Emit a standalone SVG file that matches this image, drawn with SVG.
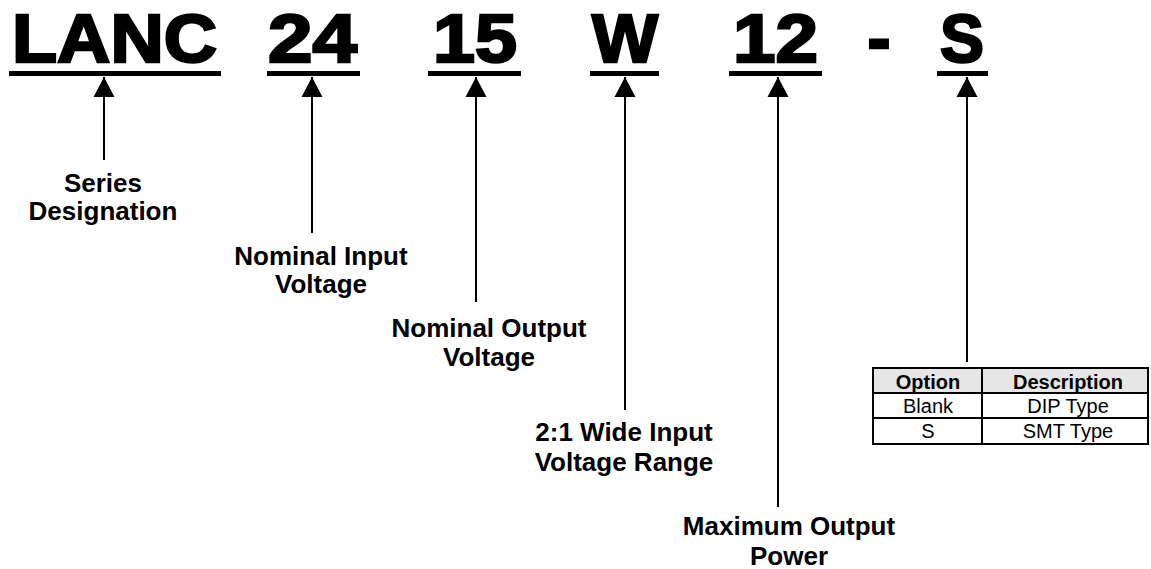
<svg xmlns="http://www.w3.org/2000/svg" width="1151" height="569" viewBox="0 0 1151 569">
<style>
.big{font-family:"Liberation Sans",Arial,sans-serif;font-weight:bold;font-size:69px;fill:#000;stroke:#000;stroke-width:2.5}
.lbl{font-family:"Liberation Sans",Arial,sans-serif;font-weight:bold;font-size:26px;fill:#000;text-anchor:middle}
.th{font-family:"Liberation Sans",Arial,sans-serif;font-weight:bold;font-size:20px;fill:#000;text-anchor:middle}
.td{font-family:"Liberation Sans",Arial,sans-serif;font-size:20px;fill:#000;text-anchor:middle}
.conn line{stroke:#000;stroke-width:2}
.ul{fill:#000}
</style>
<defs>
<marker id="ah" markerWidth="22" markerHeight="20" refX="11" refY="0" orient="0" markerUnits="userSpaceOnUse" viewBox="0 0 22 20">
<path d="M11,0 L21.5,20 L0.5,20 Z" fill="#000"/>
</marker>
</defs>
<rect width="1151" height="569" fill="#fff"/>
<g id="code">
<g id="tok-lanc"><text class="big" x="12" y="62" textLength="205" lengthAdjust="spacingAndGlyphs">LANC</text><rect class="ul" x="9" y="71" width="212" height="5"/></g>
<g id="tok-24"><text class="big" x="268" y="62" textLength="89" lengthAdjust="spacingAndGlyphs">24</text><rect class="ul" x="267" y="71" width="93" height="5"/></g>
<g id="tok-15"><text class="big" x="433" y="62" textLength="84" lengthAdjust="spacingAndGlyphs">15</text><rect class="ul" x="428" y="71" width="93" height="5"/></g>
<g id="tok-w"><text class="big" x="592" y="62" textLength="66" lengthAdjust="spacingAndGlyphs">W</text><rect class="ul" x="590" y="71" width="69" height="5"/></g>
<g id="tok-12"><text class="big" x="733" y="62" textLength="85" lengthAdjust="spacingAndGlyphs">12</text><rect class="ul" x="729" y="71" width="93" height="5"/></g>
<g id="tok-dash"><text class="big" x="879" y="62" text-anchor="middle">-</text></g>
<g id="tok-s"><text class="big" x="940" y="62" textLength="44" lengthAdjust="spacingAndGlyphs">S</text><rect class="ul" x="937" y="71" width="51" height="5"/></g>
</g>
<g id="connectors" class="conn">
<line x1="104" y1="160" x2="104" y2="77" marker-end="url(#ah)"/>
<line x1="312" y1="233" x2="312" y2="77" marker-end="url(#ah)"/>
<line x1="476" y1="302" x2="476" y2="77" marker-end="url(#ah)"/>
<line x1="625" y1="410" x2="625" y2="77" marker-end="url(#ah)"/>
<line x1="778" y1="507" x2="778" y2="77" marker-end="url(#ah)"/>
<line x1="967" y1="362" x2="967" y2="77" marker-end="url(#ah)"/>
</g>
<g id="lbl-series"><text class="lbl" x="103" y="192">Series</text><text class="lbl" x="103" y="220">Designation</text></g>
<g id="lbl-input"><text class="lbl" x="321" y="265">Nominal Input</text><text class="lbl" x="321" y="293">Voltage</text></g>
<g id="lbl-output"><text class="lbl" x="489" y="337">Nominal Output</text><text class="lbl" x="489" y="366">Voltage</text></g>
<g id="lbl-wide"><text class="lbl" x="624" y="441">2:1 Wide Input</text><text class="lbl" x="624" y="471">Voltage Range</text></g>
<g id="lbl-power"><text class="lbl" x="789" y="535">Maximum Output</text><text class="lbl" x="789" y="565">Power</text></g>
<g id="option-table">
<rect x="873" y="368" width="275" height="25" fill="#e6e6e6"/>
<rect x="873" y="368" width="275" height="76" fill="none" stroke="#000" stroke-width="2"/>
<line x1="873" y1="393" x2="1148" y2="393" stroke="#000" stroke-width="2"/>
<line x1="873" y1="418" x2="1148" y2="418" stroke="#000" stroke-width="2"/>
<line x1="982" y1="368" x2="982" y2="444" stroke="#000" stroke-width="2"/>
<text class="th" x="928" y="389">Option</text>
<text class="th" x="1068" y="389">Description</text>
<text class="td" x="928" y="413">Blank</text>
<text class="td" x="1068" y="413">DIP Type</text>
<text class="td" x="928" y="438">S</text>
<text class="td" x="1068" y="438">SMT Type</text>
</g>
</svg>
